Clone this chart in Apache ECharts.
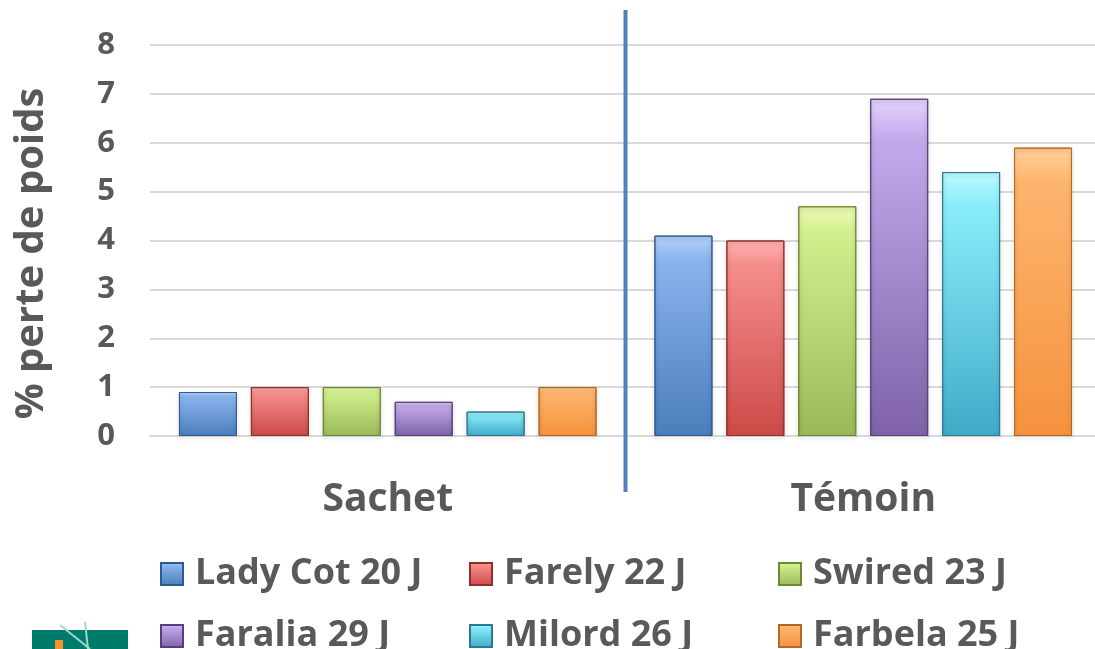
<!DOCTYPE html>
<html><head><meta charset="utf-8">
<script src="https://cdn.jsdelivr.net/npm/echarts@6/dist/echarts.min.js"></script>
<style>html,body{margin:0;padding:0;background:#fff}#c{width:1095px;height:649px}</style>
</head><body><div id="c"></div>
<script>
const categories = ['Sachet', 'Témoin'];
const seriesNames = ['Lady Cot 20 J', 'Farely 22 J', 'Swired 23 J', 'Faralia 29 J', 'Milord 26 J', 'Farbela 25 J'];
const ladyCot = [0.9, 4.1];
const farely = [1.0, 4.0];
const swired = [1.0, 4.7];
const faralia = [0.7, 6.9];
const milord = [0.5, 5.4];
const farbela = [1.0, 5.9];
const yTicks = [0, 1, 2, 3, 4, 5, 6, 7, 8];

const values = [ladyCot, farely, swired, faralia, milord, farbela];
const palette = [
  ['#b4d4fb', '#8ab4ee', '#4a7ebb', '#2f5a8f'],
  ['#ffb4b2', '#f58e8c', '#cc4a47', '#8f2f2d'],
  ['#ecfbb4', '#d2ef8e', '#9ab958', '#6b8a33'],
  ['#e4d4fb', '#c3aaec', '#7f62a8', '#55407a'],
  ['#bdfaff', '#8aeefa', '#40aac8', '#2a7891'],
  ['#ffd19a', '#fdb56e', '#f5923e', '#b8661f']
];
const FONT = '"Open Sans", sans-serif';
const GRAY = '#595959';

const chart = echarts.init(document.getElementById('c'), null, {renderer: 'canvas'});
const series = seriesNames.map((n, i) => ({
  name: n,
  type: 'bar',
  data: values[i],
  barWidth: 58,
  barGap: '24%',
  itemStyle: {
    color: new echarts.graphic.LinearGradient(0, 0, 0, 1, [
      {offset: 0, color: palette[i][0]},
      {offset: 0.12, color: palette[i][1]},
      {offset: 1, color: palette[i][2]}
    ]),
    borderColor: palette[i][3],
    borderWidth: 1,
    shadowColor: 'rgba(0,0,0,0.25)',
    shadowBlur: 4,
    shadowOffsetY: 2
  }
}));

chart.setOption({
  animation: false,
  backgroundColor: '#fff',
  grid: {left: 150, width: 951, top: 45, bottom: 213, containLabel: false, outerBoundsMode: 'none'},
  legend: {
    data: seriesNames,
    left: 160, top: 548, width: 960,
    padding: 0,
    orient: 'horizontal',
    itemWidth: 22, itemHeight: 22, itemGap: 10,
    icon: 'rect',
    textStyle: {fontFamily: FONT, fontWeight: 'bold', fontSize: 36, color: GRAY, width: 264, lineHeight: 52, height: 52, padding: [0, 0, 0, 7]}
  },
  xAxis: {
    type: 'category',
    data: categories,
    axisLine: {show: true, lineStyle: {color: '#d9d9d9', width: 2}},
    axisTick: {show: false},
    axisLabel: {fontFamily: FONT, fontWeight: 'bold', fontSize: 39, color: GRAY, margin: 44}
  },
  yAxis: {
    type: 'value',
    min: 0, max: 8, interval: 1,
    name: '% perte de poids',
    nameLocation: 'middle',
    nameRotate: 90,
    nameGap: 98,
    nameTextStyle: {fontFamily: FONT, fontWeight: 'bold', fontSize: 40, color: GRAY, padding: [0, 26, 0, 0]},
    axisLine: {show: false},
    axisTick: {show: false},
    splitLine: {lineStyle: {color: '#d9d9d9', width: 2}},
    axisLabel: {
      fontFamily: FONT, fontWeight: 'bold', fontSize: 31, color: GRAY, margin: 35,
      formatter: v => yTicks.includes(v) ? String(v) : ''
    }
  },
  series: series
});

// separator line between the two categories, placed via the axis scale
const c0 = chart.convertToPixel({xAxisIndex: 0}, categories[0]);
const c1 = chart.convertToPixel({xAxisIndex: 0}, categories[1]);
const xSep = (c0 + c1) / 2;
chart.setOption({
  graphic: [
    {type: 'line', shape: {x1: xSep, y1: 10, x2: xSep, y2: 492}, style: {stroke: '#4f81bd', lineWidth: 4}, z: 10},
    {type: 'rect', shape: {x: 32, y: 630, width: 96, height: 19}, style: {fill: '#007a6a'}},
    {type: 'line', shape: {x1: 60, y1: 625, x2: 90, y2: 649}, style: {stroke: '#9ed8c8', lineWidth: 2}},
    {type: 'line', shape: {x1: 85, y1: 622, x2: 88, y2: 649}, style: {stroke: '#9ed8c8', lineWidth: 2}},
    {type: 'rect', shape: {x: 55, y: 640, width: 8, height: 9}, style: {fill: '#f5922e'}}
  ]
});
</script></body></html>
